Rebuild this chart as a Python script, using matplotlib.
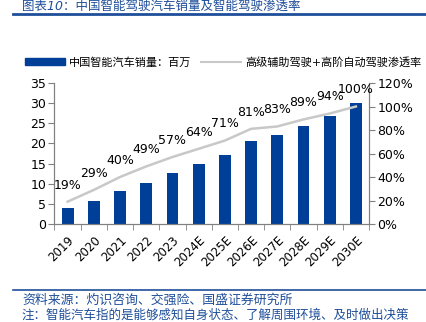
import numpy as np
import matplotlib.pyplot as plt
from matplotlib.lines import Line2D

plt.rcParams['font.family'] = ['DejaVu Sans', 'Noto Sans CJK SC']

# data
years = ['2019', '2020', '2021', '2022', '2023', '2024E', '2025E',
         '2026E', '2027E', '2028E', '2029E', '2030E']
sales = [4.0, 5.6, 8.3, 10.1, 12.6, 14.8, 17.2, 20.6, 22.1, 24.4, 26.9, 30.0]
penetration = [19, 29, 40, 49, 57, 64, 71, 81, 83, 89, 94, 100]

bar_color = '#003f98'
line_color = '#c8c8c8'
spine_color = '#808080'
blue_text = '#1f4e9a'

fig = plt.figure(figsize=(4.26, 3.22), dpi=100)
W, H = 426, 322
ax = fig.add_axes([54.5 / W, 1 - 224 / H, (369 - 54.5) / W, (224 - 83) / H])
ax2 = ax.twinx()

x = np.arange(len(years))
ax.bar(x, sales, width=0.45, color=bar_color, zorder=2)
ax.set_xlim(-0.5, len(years) - 0.5)
ax.set_ylim(0, 35)
ax.set_yticks(np.arange(0, 36, 5))

ax2.plot(x, penetration, color=line_color, lw=1.8, zorder=3)
ax2.set_ylim(0, 120)
ax2.set_yticks(np.arange(0, 121, 20))
ax2.set_yticklabels([f'{v}%' for v in range(0, 121, 20)])
for xi, p in zip(x, penetration):
    ax2.annotate(f'{p}%', (xi, p), xytext=(0, 12), textcoords='offset points',
                 ha='center', va='center', fontsize=9)

ax.set_xticks(x)
ax.set_xticklabels(years, rotation=45, ha='right', rotation_mode='anchor', fontsize=8.5)
ax.set_xticks(np.arange(-0.5, len(years), 1), minor=True)
ax.tick_params(axis='x', which='major', length=0, pad=7)
ax.tick_params(axis='x', which='minor', length=4, color=spine_color)
ax.tick_params(axis='y', length=4, color=spine_color, labelsize=9, pad=2)
ax2.tick_params(axis='y', length=4, color=spine_color, labelsize=9, pad=2)

for a in (ax, ax2):
    a.spines['top'].set_visible(False)
    for s in ('left', 'right', 'bottom'):
        a.spines[s].set_color(spine_color)

handles = [plt.Rectangle((0, 0), 1, 1, color=bar_color),
           Line2D([0], [0], color=line_color, lw=1.5)]
labels = ['中国智能汽车销量：百万', '高级辅助驾驶+高阶自动驾驶渗透率']
fig.legend(handles, labels, loc='center', bbox_to_anchor=(223 / W, 1 - 62 / H),
           ncol=2, frameon=False, fontsize=8, handlelength=3.6, handleheight=0.5,
           columnspacing=0.8, handletextpad=0.4)

# header / footer decoration
fig.add_artist(Line2D([13 / W, 1], [1 - 14 / H] * 2, color=blue_text, lw=2))
fig.add_artist(Line2D([13 / W, 1], [1 - 290 / H] * 2, color=blue_text, lw=1.2))
fig.text(22 / W, 1 - 6 / H, '图表10：中国智能驾驶汽车销量及智能驾驶渗透率',
         color=blue_text, fontsize=9, style='italic', va='center', ha='left')
fig.text(22 / W, 1 - 300 / H, '资料来源：灼识咨询、交强险、国盛证券研究所',
         color=blue_text, fontsize=9.3, style='italic', va='center')
fig.text(22 / W, 1 - 315 / H, '注：智能汽车指的是能够感知自身状态、了解周围环境、及时做出决策',
         color=blue_text, fontsize=9, style='italic', va='center')

fig.savefig('out.png', dpi=100)
